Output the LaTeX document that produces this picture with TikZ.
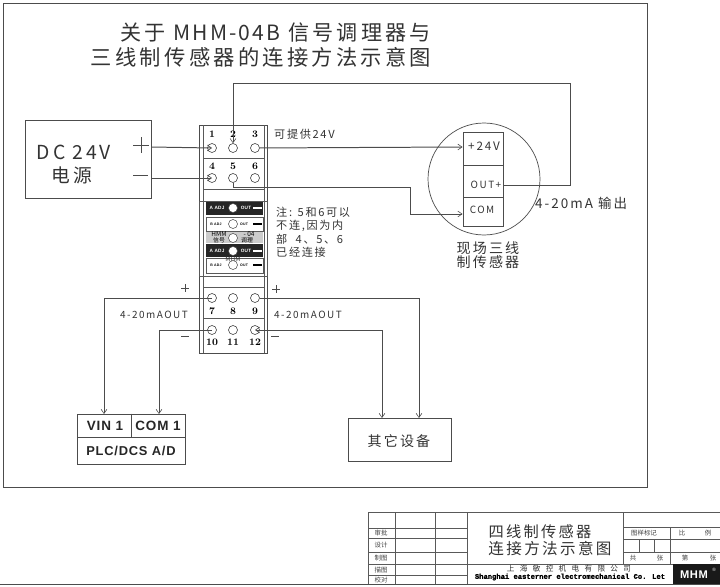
\documentclass[tikz,border=0pt]{standalone}
\usepackage{fontspec}
\usetikzlibrary{arrows.meta}
\newfontfamily\cjk[LetterSpace=15]{Noto Sans CJK SC}
\newfontfamily\cjktight{Noto Sans CJK SC}
\newfontfamily\cjkmid[LetterSpace=10]{Noto Sans CJK SC}
\newfontfamily\cjkwide[LetterSpace=70]{Noto Sans CJK SC}
\newfontfamily\slab[FakeBold=1.5]{Liberation Mono}
\newfontfamily\arialish[LetterSpace=6]{Liberation Sans}
\newcommand{\sizept}[1]{\fontsize{#1}{#1}\selectfont}
\def\px{0.03cm}
\tikzset{
  >={Straight Barb[length=3.6pt,width=5pt,line width=0.5pt]},
  wire/.style={draw=black!70,line width=0.85pt},
  frameline/.style={draw=black!70,line width=0.8pt},
  thinline/.style={draw=black!65,line width=0.5pt},
  term/.style={circle,draw=black!75,line width=0.5pt,minimum size=9*\px,inner sep=0pt,fill=white},
  cjktext/.style={font=\cjk\sizept{#1},text=black!80,inner sep=0pt,align=center},
  numtext/.style={font=\bfseries\sizept{8.5},inner sep=0pt},
  tiny/.style={font=\cjktight\sizept{5.5},text=black!75,inner sep=0pt},
  plctext/.style={font=\arialish\bfseries\sizept{#1},text=black!85,inner sep=0pt},
  paneltext/.style={font=\arialish\bfseries\sizept{#1},inner sep=0pt},
}
\begin{document}
\begin{tikzpicture}[x=0.03cm,y=-0.03cm]
\useasboundingbox (0,0) rectangle (720,587);
\draw[frameline] (3,3) rectangle (647,487);
\node[cjktext=18] (titlea) at (275.5,33) {关于 {\cjkmid MHM-04B} 信号调理器与};
\node[cjktext=18.2] (titleb) at (261,57) {三线制传感器的连接方法示意图};
\node[draw=black!70,line width=0.8pt,minimum width=126*\px,minimum height=78*\px,inner sep=0pt] (dcbox) at (88,159) {};
\coordinate (dcplus) at (dcbox.east |- 0,147);
\coordinate (dcminus) at (dcbox.east |- 0,178);
\node[cjktext=16.5] (dctext) at (74,152) {DC 24V};
\node[cjktext=16] (dcname) at (72,175) {电源};
\draw[wire] (133,145) -- (149,145) (141,137) -- (141,153);
\draw[wire] (133,175) -- (148,175);
\draw[frameline] (199,125) rectangle (267,353);
\draw[thinline] (203,125) -- (203,353) (264,125) -- (264,353);
\foreach \y in {158,189,287,318} \draw[thinline] (203,\y) -- (264,\y);
\draw[thinline] (199,201) rectangle (267,276);
\draw[thinline] (203,201) rectangle (264,276);
\fill[black!85] (206,202) rectangle (263,215);
\fill[black!85] (206,244) rectangle (263,257);
\fill[black!20] (206,232) rectangle (263,243);
\draw[thinline] (206,217) rectangle (263,231);
\draw[thinline] (206,258) rectangle (263,273);
\foreach \n/\y in {pa/208,pb/224,pc/238,pd/251,pe/265}
  \node[circle,draw=black!75,fill=white,line width=0.4pt,minimum size=9*\px,inner sep=0pt] (\n) at (233,\y) {};
\foreach \y in {208,251} {
  \node[paneltext=4,text=white] at (217,\y) {A ADJ};
  \node[paneltext=4,text=white] at (246,\y) {OUT};
  \fill[white] (253,\y-0.8) rectangle (262,\y+0.8);
}
\foreach \y in {224,265} {
  \node[paneltext=3] at (216,\y) {B ADJ};
  \node[paneltext=3] at (244,\y) {OUT};
  \fill[black] (253,\y-0.8) rectangle (262,\y+0.8);
}
\node[font=\cjktight\sizept{5.5},inner sep=0pt] (panela) at (219,234) {HMM};
\node[font=\cjktight\sizept{5.5},inner sep=0pt] (panelb) at (249,234) {- 04};
\node[font=\cjktight\sizept{5},inner sep=0pt] (panelc) at (219,240.5) {信号};
\node[font=\cjktight\sizept{5},inner sep=0pt] (paneld) at (247,240.5) {调理};
\node[font=\cjktight\sizept{5.5},text=black!80,inner sep=0pt] (panele) at (233,259.5) {MHM};
\foreach \n/\x/\y in {1/212/134,2/233/134,3/255/134,4/212/166,5/233/166,6/255/166,7/212/311,8/233/311,9/255/311,10/212/342,11/233/342,12/255/342}
  \node[numtext] (n\n) at (\x,\y) {\n};
\foreach \n/\x/\y in {1/212/148,2/233/148,3/255/148,4/212/178,5/233/178,6/255/178,7/212/298,8/233/298,9/255/298,10/212/330,11/233/330,12/255/330}
  \node[term] (t\n) at (\x,\y) {};
\node[cjktext=9.5,anchor=west] (supply) at (274,134) {可提供24V};
\node[cjktext=9.5,anchor=north west,align=left] (note) at (276,207) {注: 5和6可以\\[1.5pt]不连,因为内\\[1.5pt]部 \ 4、5、6\\[1.5pt]已经连接};
\node[circle,draw=black!70,line width=0.6pt,minimum size=112*\px,inner sep=0pt] (sensor) at (484,179) {};
\node[draw=black!70,line width=0.8pt,minimum width=40*\px,minimum height=33*\px,inner sep=0pt] (spw) at (483,148.5) {};
\node[draw=black!70,line width=0.8pt,minimum width=40*\px,minimum height=32*\px,inner sep=0pt] (sout) at (483,181) {};
\node[draw=black!70,line width=0.8pt,minimum width=40*\px,minimum height=29*\px,inner sep=0pt] (scom) at (483,211.5) {};
\node[cjktext=10] (spwtext) at (484,146) {+24V};
\node[cjktext=8.5] (souttext) at (486,185) {OUT+};
\node[cjktext=8.5] (scomtext) at (482,210) {COM};
\coordinate (soutpin) at (sout.east |- 0,185);
\coordinate (spwpin) at (spw.west |- 0,147);
\coordinate (scompin) at (scom.west |- 0,214);
\node[cjktext=11.5,anchor=west] (outtext) at (535,203) {4-20mA 输出};
\node[cjktext=12] (sensortext) at (488,255) {现场三线\\[0.2pt]制传感器};
\node[cjktext=8.5] (outa) at (154,315) {4-20mAOUT};
\node[cjktext=8.5] (outb) at (308,315) {4-20mAOUT};
\draw[wire] (181,288) -- (189,288) (185,284) -- (185,292);
\draw[wire] (181,336) -- (189,336);
\draw[wire] (272,289) -- (280,289) (276,285) -- (276,293);
\draw[wire] (271,336) -- (279,336);
\node[draw=black!70,line width=0.8pt,minimum width=108*\px,minimum height=23*\px,inner sep=0pt] (plcin) at (131,425.5) {};
\node[draw=black!70,line width=0.8pt,minimum width=108*\px,minimum height=27*\px,inner sep=0pt] (plcname) at (131,450.5) {};
\draw[frameline] (plcin.north) -- (plcin.south);
\node[plctext=11.5] (vintext) at (105,425.5) {VIN 1};
\node[plctext=11.5] (comtext) at (158,425.5) {COM 1};
\node[plctext=11] (plctext) at (131,451) {PLC/DCS A/D};
\coordinate (vinpin) at (104,414);
\coordinate (compin) at (159,414);
\node[draw=black!70,line width=0.8pt,minimum width=103*\px,minimum height=43*\px,inner sep=0pt] (other) at (399.5,439.5) {};
\node[cjktext=12] (othertext) at (399,441) {其它设备};
\coordinate (otherin) at (419,418);
\coordinate (otherout) at (382,418);
\draw[wire,->] (dcplus) -- (t1.center);
\draw[wire,->] (dcminus) -- (t4.center);
\draw[wire,->] (t3) -- (spwpin);
\draw[wire,->] (soutpin) -| (570,83) -| (t2.north);
\draw[wire,->] (t5.south) |- (410,187) |- (scompin);
\draw[wire,->] (t7.center) -| (vinpin);
\draw[wire,->] (t10.center) -| (compin);
\draw[wire,->] (t9.east) -| (otherin);
\draw[wire,<->] (t12.center) -| (otherout);
\foreach \x in {368,395,435,467} \draw[thinline] (\x,512) -- (\x,584);
\draw[thinline] (623,512) -- (623,564);
\draw[thinline] (368,512) -- (720,512);
\foreach \y in {528,538,552,564,575} \draw[thinline] (368,\y) -- (467,\y);
\draw[thinline] (467,564) -- (720,564);
\foreach \y in {527,539,552} \draw[thinline] (623,\y) -- (720,\y);
\draw[thinline] (670,527) -- (670,564);
\draw[thinline] (639,539) -- (639,552) (654,539) -- (654,552);
\foreach \n/\y/\t in {ba/533/审批,bb/545/设计,bc/558/制图,bd/570/描图,be/580/校对}
  \node[tiny] (\n) at (381,\y) {\t};
\node[cjktext=13] (dwga) at (540,532) {四线制传感器};
\node[cjktext=13.3] (dwgb) at (550,549) {连接方法示意图};
\node[tiny] (ra) at (644,533) {图样标记};
\foreach \n/\x/\y/\t in {rb/682/533/比,rc/708/533/例,rd/633/558/共,re/660/558/张,rf/685/558/第,rg/713/558/张}
  \node[tiny] (\n) at (\x,\y) {\t};
\node[font=\cjkwide\sizept{6.5},text=black!80,inner sep=0pt] (corpa) at (569,569) {上海敏控机电有限公司};
\node[font=\slab\bfseries\sizept{6.1},inner sep=0pt] (corpb) at (570,577) {Shanghai easterner electromechanical Co. Let};
\fill[black!90] (673,564) rectangle (720,584);
\node[font=\arialish\bfseries\sizept{9.5},text=white,inner sep=0pt] (logo) at (694,575) {MHM};
\node[font=\arialish\sizept{4},text=white,inner sep=0pt] (logomark) at (714,569.5) {®};
\draw[frameline,line width=1pt] (0,584.5) -- (720,584.5);
\end{tikzpicture}
\end{document}
